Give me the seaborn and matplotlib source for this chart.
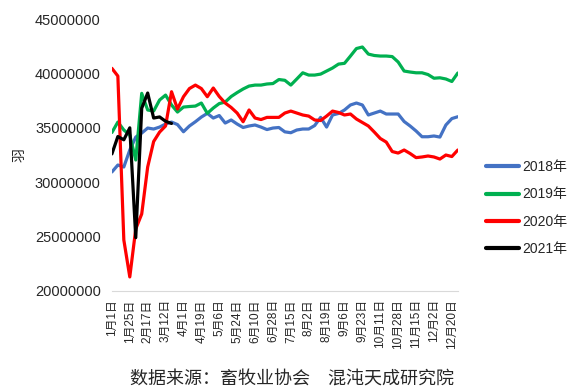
import numpy as np
import pandas as pd
import matplotlib
matplotlib.use('Agg')
import matplotlib.pyplot as plt
import seaborn as sns

# 横轴标签（每3个数据点标注一次）
tick_labels = ['1月1日', '1月25日', '2月17日', '3月12日', '4月1日', '4月19日', '5月6日',
               '5月24日', '6月10日', '6月28日', '7月15日', '8月2日', '8月19日', '9月6日',
               '9月23日', '10月11日', '10月28日', '11月15日', '12月2日', '12月20日']

# 各年度数据（百万羽）
y2018 = [30.94, 31.58, 31.40, 32.96, 34.15, 34.52, 34.98, 34.89, 35.07, 35.35,
         35.53, 35.30, 34.64, 35.17, 35.56, 35.99, 36.33, 35.90, 36.13, 35.44,
         35.72, 35.35, 35.03, 35.17, 35.26, 35.07, 34.84, 34.98, 35.03, 34.63,
         34.55, 34.80, 34.89, 34.89, 35.21, 35.96, 35.07, 36.18, 36.32, 36.64,
         37.10, 37.28, 37.10, 36.18, 36.36, 36.54, 36.27, 36.27, 36.27, 35.58,
         35.17, 34.71, 34.18, 34.18, 34.25, 34.15, 35.26, 35.85, 36.02]
y2019 = [34.57, 35.53, 34.80, 34.34, 32.04, 38.17, 36.64, 36.54, 37.56, 38.01,
         37.10, 36.45, 36.91, 36.96, 37.00, 37.28, 36.33, 36.82, 37.23, 37.37,
         37.88, 38.24, 38.57, 38.84, 38.93, 38.93, 39.03, 39.07, 39.44, 39.37,
         38.93, 39.49, 40.06, 39.85, 39.85, 39.94, 40.22, 40.50, 40.86, 40.93,
         41.60, 42.29, 42.43, 41.78, 41.65, 41.60, 41.60, 41.55, 41.05, 40.22,
         40.13, 40.06, 40.06, 39.90, 39.56, 39.60, 39.49, 39.26, 40.04]
y2020 = [40.47, 39.76, 24.69, 21.29, 25.70, 27.08, 31.40, 33.74, 34.61, 35.17,
         38.32, 36.73, 37.86, 38.61, 38.93, 38.61, 37.86, 38.66, 37.88, 37.28,
         36.87, 36.36, 35.56, 36.64, 35.90, 35.76, 35.96, 35.96, 35.96, 36.36,
         36.54, 36.36, 36.18, 36.08, 35.72, 35.67, 36.08, 36.54, 36.41, 36.18,
         36.27, 35.81, 35.49, 35.17, 34.61, 34.02, 33.69, 32.82, 32.68, 32.96,
         32.64, 32.26, 32.32, 32.41, 32.32, 32.13, 32.50, 32.36, 32.96]
y2021 = [32.60, 34.20, 33.90, 35.00, 24.90, 36.80, 38.20, 35.90, 36.00, 35.60,
         35.40]

years = ['2018年', '2019年', '2020年', '2021年']
colors = ['#4472C4', '#00B050', '#FF0000', '#000000']

frames = []
for name, vals in zip(years, [y2018, y2019, y2020, y2021]):
    frames.append(pd.DataFrame({'idx': np.arange(len(vals)),
                                'value': np.array(vals) * 1e6,
                                'year': name}))
data = pd.concat(frames, ignore_index=True)

sns.set_style('white')
plt.rcParams['font.family'] = ['Liberation Sans', 'Noto Sans CJK SC']

fig = plt.figure(figsize=(5.68, 3.89), dpi=100)
ax = fig.add_axes([0.197, 0.252, 0.609, 0.699])

sns.lineplot(data=data, x='idx', y='value', hue='year', palette=colors,
             linewidth=2.3, ax=ax)

ax.set_xlim(0, len(y2018) - 1)
ax.set_ylim(20000000, 45000000)
ax.set_yticks(range(20000000, 45000001, 5000000))
ax.set_yticklabels([str(v) for v in range(20000000, 45000001, 5000000)], fontsize=10.5)
ax.set_xticks(range(0, 3 * len(tick_labels), 3))
ax.set_xticklabels(tick_labels, rotation=90, fontsize=8.5)
ax.tick_params(axis='y', length=0, pad=8)
ax.tick_params(axis='x', length=0, pad=6)
ax.set_xlabel('')
ax.set_ylabel('羽', fontsize=10, family=['Noto Sans CJK SC'], labelpad=6)

for s in ['top', 'right', 'left']:
    ax.spines[s].set_visible(False)
ax.spines['bottom'].set_color('#D9D9D9')

ax.legend(loc='center left', bbox_to_anchor=(1.065, 0.305), frameon=False,
          fontsize=10, handlelength=2.4, labelspacing=0.95, handletextpad=0.2,
          borderaxespad=0.0)
for line in ax.get_legend().get_lines():
    line.set_linewidth(3)

fig.text(0.514, 0.012, '数据来源：畜牧业协会\u3000混沌天成研究院', ha='center',
         fontsize=13, family=['Noto Sans CJK SC'])

plt.savefig('out.png', dpi=100)
